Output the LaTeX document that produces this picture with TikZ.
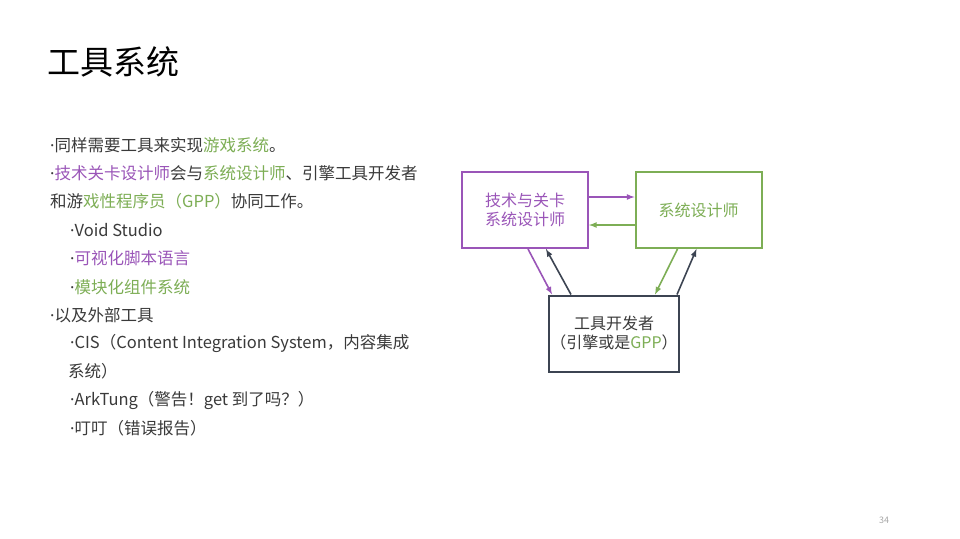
\documentclass[tikz,border=0pt]{standalone}
\usepackage{fontspec}
\setmainfont{Noto Sans CJK SC}
\newfontfamily\dotfont{Noto Sans}
\usetikzlibrary{positioning}
\definecolor{txtgray}{HTML}{3A3A3A}
\definecolor{sysgreen}{HTML}{7DAE55}
\definecolor{lvlpurple}{HTML}{9A55B8}
\definecolor{tooldark}{HTML}{3C4452}
\newcommand{\gr}[1]{\textcolor{sysgreen}{#1}}
\newcommand{\pu}[1]{\textcolor{lvlpurple}{#1}}
\newcommand{\bul}{{\dotfont ·}}

\begin{document}
\begin{tikzpicture}[x=1pt,y=-1pt,
  line/.style={anchor=west,inner sep=0pt,text=txtgray,font=\fontsize{16.5}{16.5}\selectfont},
  box/.style={draw,line width=2pt,fill=white,inner sep=1pt,minimum width=126pt,minimum height=76pt,align=center,font=\fontsize{16}{19}\selectfont},
  link/.style={line width=1.6pt,-latex}]
  \useasboundingbox[fill=white] (0,0) rectangle (960,538);

  \node[anchor=west,inner sep=0pt,text=black,font=\fontsize{33}{33}\selectfont] (title) at (47,62) {工具系统};

  \node[line] (l1) at (50,145) {\bul 同样需要工具来实现\gr{游戏系统}。};
  \node[line] (l2) at (50,173) {\bul\pu{技术关卡设计师}会与\gr{系统设计师}、引擎工具开发者};
  \node[line] (l3) at (50,201) {和游\gr{戏性程序员（GPP）}协同工作。};
  \node[line] (l4) at (70,230) {\bul Void Studio};
  \node[line] (l5) at (70,258) {\bul\pu{可视化脚本语言}};
  \node[line] (l6) at (70,287) {\bul\gr{模块化组件系统}};
  \node[line] (l7) at (50,315) {\bul 以及外部工具};
  \node[line] (l8) at (70,343) {\bul CIS（Content Integration System，内容集成};
  \node[line] (l9) at (68,371) {系统）};
  \node[line] (l10) at (70,400) {\bul ArkTung（警告！get 到了吗？）};
  \node[line] (l11) at (70,428) {\bul 叮叮（错误报告）};

  % diagram
  \node[box,draw=lvlpurple,text=lvlpurple] (level) at (525,210) {技术与关卡\\系统设计师};
  \node[box,draw=sysgreen,text=sysgreen] (sys) at (698.5,210) {系统设计师};
  \node[box,draw=tooldark,text=txtgray] (tool) at (614,333.5) {工具开发者\\（引擎或是\gr{GPP}）};

  \draw[link,lvlpurple] ([yshift=13pt]level.east) -- ([yshift=13pt]sys.west);
  \draw[link,sysgreen] ([yshift=-15pt]sys.west) -- ([yshift=-15pt]level.east);
  \draw[link,lvlpurple] ([xshift=3pt]level.south) -- ([xshift=-62pt]tool.north);
  \draw[link,tooldark] ([xshift=-43pt]tool.north) -- ([xshift=21pt]level.south);
  \draw[link,sysgreen] ([xshift=-21pt]sys.south) -- ([xshift=41pt]tool.north);
  \draw[link,tooldark] ([xshift=63pt]tool.north) -- ([xshift=-2pt]sys.south);

  \node[text=gray!70,font=\fontsize{9}{9}\selectfont] (page) at (884,520) {34};
\end{tikzpicture}
\end{document}
